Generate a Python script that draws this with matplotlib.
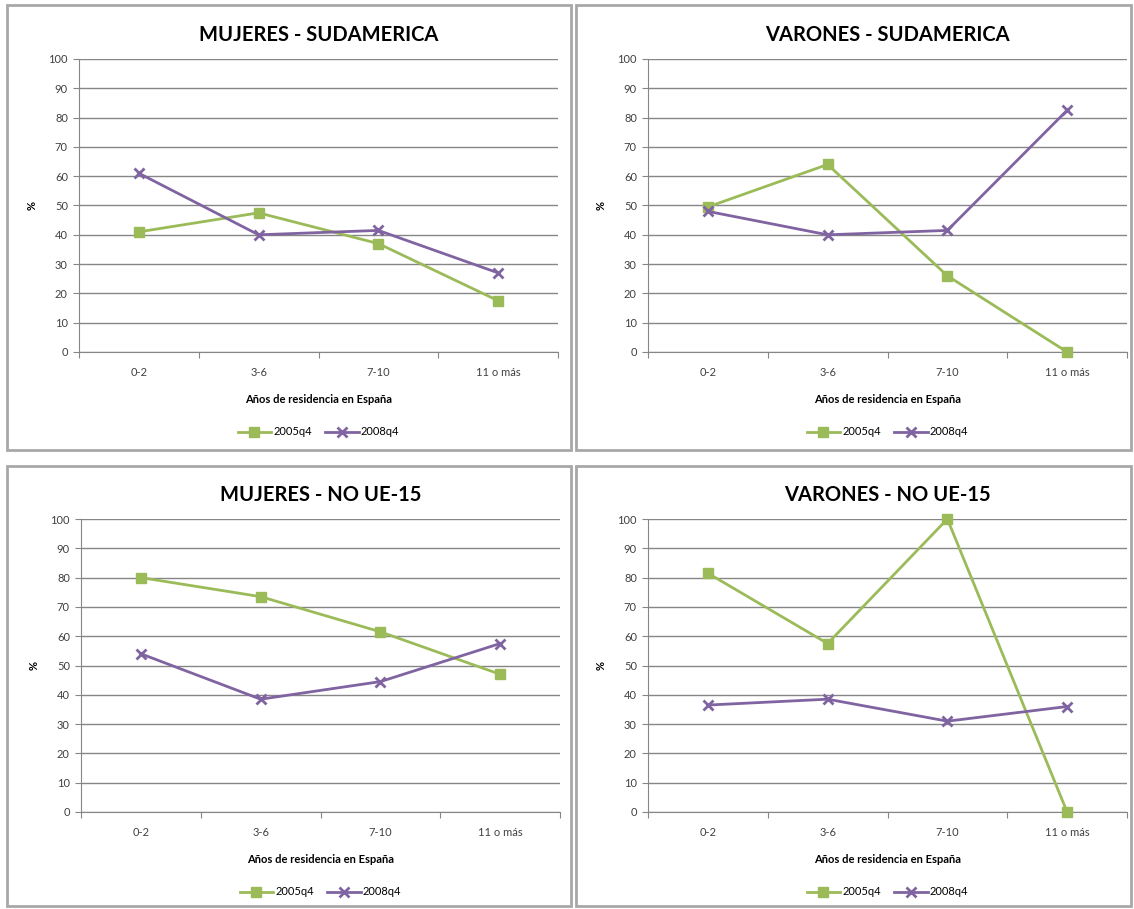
import matplotlib.pyplot as plt
from matplotlib.patches import Rectangle

plt.rcParams['font.family'] = ['Lato', 'DejaVu Sans']

# Datos
categorias = ['0-2', '3-6', '7-10', '11 o más']
titulos = ['MUJERES - SUDAMERICA', 'VARONES - SUDAMERICA',
           'MUJERES - NO UE-15', 'VARONES - NO UE-15']
series = ['2005q4', '2008q4']

muj_sud_2005 = [41, 47.5, 37, 17.5]
muj_sud_2008 = [61, 40, 41.5, 27]
var_sud_2005 = [49.5, 64, 26, 0]
var_sud_2008 = [48, 40, 41.5, 82.5]
muj_noue_2005 = [80, 73.5, 61.5, 47]
muj_noue_2008 = [54, 38.5, 44.5, 57.5]
var_noue_2005 = [81.5, 57.5, 100, 0]
var_noue_2008 = [36.5, 38.5, 31, 36]

datos = [(muj_sud_2005, muj_sud_2008), (var_sud_2005, var_sud_2008),
         (muj_noue_2005, muj_noue_2008), (var_noue_2005, var_noue_2008)]

verde = '#9BBB59'
morado = '#8064A2'
gris = '#868686'

W, H = 1134, 909
fig = plt.figure(figsize=(W / 100, H / 100), dpi=100)

# marcos de cada panel (px: x0, y0, x1, y1)
marcos = [(7, 5, 571, 450), (576, 5, 1131, 450),
          (7, 466, 571, 906), (576, 466, 1131, 906)]
# area de dibujo (px: izquierda, derecha, arriba, abajo)
areas = [(79, 558, 59, 352), (648, 1127, 59, 352),
         (81, 560, 519, 812), (648, 1127, 519, 812)]

for i in range(4):
    x0, y0, x1, y1 = marcos[i]
    fig.add_artist(Rectangle((x0 / W, 1 - y1 / H), (x1 - x0) / W, (y1 - y0) / H,
                             transform=fig.transFigure, fill=False,
                             edgecolor='#a8a8a8', linewidth=2))

    l, r, t, b = areas[i]
    ax = fig.add_axes([l / W, 1 - b / H, (r - l) / W, (b - t) / H])
    xs = [k + 0.5 for k in range(len(categorias))]
    y05, y08 = datos[i]
    ax.plot(xs, y05, color=verde, lw=2, marker='s', ms=6.5, label=series[0],
            zorder=3, clip_on=False)
    ax.plot(xs, y08, color=morado, lw=2, marker='x', ms=7, mew=2, label=series[1],
            zorder=3, clip_on=False)

    ax.set_xlim(0, 4)
    ax.set_ylim(0, 100)
    ax.set_yticks(range(0, 101, 10))
    ax.set_xticks(range(5))
    ax.set_xticklabels([])
    ax.set_xticks(xs, minor=True)
    ax.set_xticklabels(categorias, minor=True)
    ax.tick_params(axis='x', which='minor', length=0, pad=11, labelsize=8, colors='#404040')
    ax.tick_params(axis='x', which='major', length=4, color=gris)
    ax.tick_params(axis='y', length=4, color=gris, labelsize=8, labelcolor='#404040', pad=4)
    ax.grid(axis='y', color=gris, lw=1)
    for s in ['top', 'right']:
        ax.spines[s].set_visible(False)
    ax.spines['left'].set_color(gris)
    ax.spines['bottom'].set_color(gris)
    ax.set_axisbelow(True)

    ax.set_title(titulos[i], fontsize=14.5, fontweight='bold', pad=13)
    ax.set_ylabel('%', fontsize=8, fontweight='bold', labelpad=8)
    ax.set_xlabel('Años de residencia en España', fontsize=8, fontweight='bold', labelpad=11)
    ax.legend(loc='upper center', bbox_to_anchor=(0.5, -0.22), ncol=2, frameon=False,
              fontsize=8, handlelength=3, columnspacing=1.2, handletextpad=0.2)

fig.savefig('out.png', dpi=100)
